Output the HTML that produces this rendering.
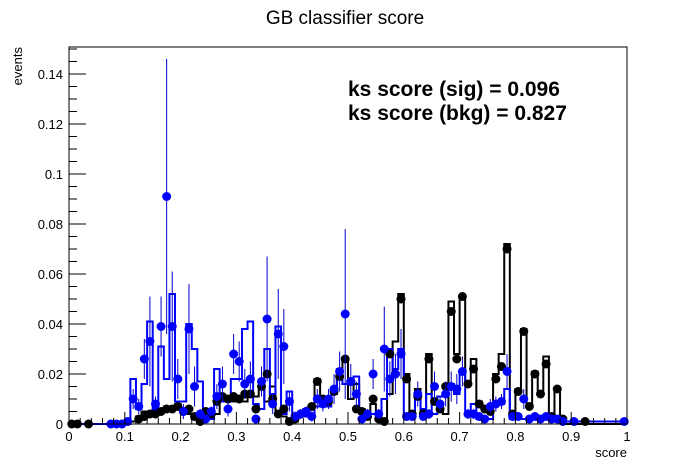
<!DOCTYPE html>
<html><head><meta charset="utf-8"><style>
html,body{margin:0;padding:0;background:#fff;}
svg{display:block;font-family:"Liberation Sans",sans-serif;}
</style></head><body>
<svg id="chart" width="696" height="472" viewBox="0 0 696 472" xmlns="http://www.w3.org/2000/svg">
<rect width="696" height="472" fill="#fff"/>
<text x="345" y="24" font-size="19" text-anchor="middle">GB classifier score</text>
<text transform="translate(22,47) rotate(-90)" font-size="13" text-anchor="end">events</text>
<text x="627" y="457" font-size="13" text-anchor="end">score</text>
<text x="348" y="96" font-size="21" font-weight="bold">ks score (sig) = 0.096</text>
<text x="348" y="120" font-size="21" font-weight="bold">ks score (bkg) = 0.827</text>
<g id="marks"></g>
<g id="axes"></g>
</svg>
<script>
const xTicks = [0,0.1,0.2,0.3,0.4,0.5,0.6,0.7,0.8,0.9,1];
const xTickLabels = ["0","0.1","0.2","0.3","0.4","0.5","0.6","0.7","0.8","0.9","1"];
const yTicks = [0,0.02,0.04,0.06,0.08,0.1,0.12,0.14];
const yTickLabels = ["0","0.02","0.04","0.06","0.08","0.1","0.12","0.14"];
const nBins = 100;
const bkgHist = [0,0,0,0,0,0,0,0,0,0,0.001,0.001,0.003,0.005,0.003,0.006,0.006,0.007,0.006,0.008,0.005,0.004,0.002,0.001,0.005,0.005,0.004,0.009,0.010,0.009,0.011,0.009,0.012,0.011,0.014,0.009,0.015,0.005,0.003,0.001,0.001,0.004,0.006,0.007,0.018,0.011,0.010,0.012,0.018,0.026,0.010,0.016,0.006,0.004,0.008,0.003,0.001,0.012,0.033,0.052,0.020,0.005,0.014,0.005,0.028,0.008,0.006,0.004,0.049,0.028,0.051,0.016,0.026,0.009,0.007,0.005,0.020,0.028,0.072,0.004,0.014,0.038,0.008,0.021,0.013,0.027,0.003,0.014,0.001,0,0,0,0,0,0,0,0,0,0,0];
const sigHist = [0,0,0,0,0,0,0,0,0,0,0,0.018,0.006,0.016,0.041,0.006,0.031,0.018,0.052,0.009,0.009,0.040,0.030,0.017,0.004,0.002,0.022,0.009,0.009,0.018,0.018,0.038,0.041,0.008,0.006,0.030,0.012,0.039,0.004,0.013,0.003,0.003,0.003,0.003,0.007,0.007,0.007,0.012,0.022,0.016,0.016,0.019,0.004,0.004,0.004,0.004,0.010,0.030,0.022,0.030,0.004,0.003,0.012,0.006,0.012,0.004,0.011,0.011,0.016,0.012,0.020,0.004,0.008,0.002,0.002,0.002,0.008,0.008,0.014,0.002,0.002,0.002,0.002,0.002,0.002,0.002,0.002,0.002,0.001,0.001,0.001,0.001,0.001,0.001,0.001,0.001,0.001,0.001,0.001,0.001];
const bkgPts = [0,0,null,0,null,null,null,null,null,null,null,null,0.002,0.003,0.004,0.004,0.005,0.006,0.006,0.007,0.005,0.006,0.003,0.001,0.005,0.004,0.009,0.011,0.010,0.011,0.010,0.012,0.012,0.006,0.015,0.020,0.010,0.004,0.006,0.001,0.002,0.004,0.005,0.007,0.017,0.010,0.009,0.013,0.019,0.026,0.017,0.006,0.005,0.003,0.010,0.002,0.001,0.028,0.020,0.050,0.018,0.004,0.011,0.004,0.026,0.009,0.006,0.015,0.045,0.026,0.051,0.016,0.022,0.008,0.006,0.005,0.018,0.023,0.070,0.004,0.013,0.037,0.007,0.020,0.012,0.024,0.003,0.014,0.002,null,null,null,0.001,null,null,null,null,null,null,null];
const sigPts = [null,null,null,null,null,null,null,0,0,0,0.001,0.010,0.007,0.026,0.033,0.008,0.039,0.091,0.039,0.018,0.005,0.038,0.015,0.004,0.002,0.005,0.011,0.016,0.006,0.028,0.025,0.016,0.018,0.002,0.017,0.042,0.008,0.036,0.031,0.009,0.003,0.004,0.005,0.003,0.010,0.008,0.010,0.014,0.021,0.044,0.017,0.012,0.002,0.004,0.020,0.004,0.030,0.018,0.020,0.028,0.003,0.003,0.012,0.003,0.004,0.015,0.008,0.012,0.015,0.014,0.021,0.004,0.004,0.003,0.002,0.007,0.008,0.009,0.021,0.003,0.003,0.010,0.002,0.003,0.002,0.003,0.002,0.002,0.001,null,0.001,null,null,null,null,null,null,null,null,0.001];
const sigErr = [0,0,0,0,0,0,0,0,0,0,0,0.004,0.003,0.008,0.018,0.003,0.012,0.055,0.022,0.008,0.003,0.018,0.008,0.002,0.001,0.002,0.005,0.007,0.003,0.008,0.008,0.006,0.007,0.001,0.006,0.025,0.004,0.018,0.015,0.004,0.002,0.002,0.002,0.002,0.004,0.003,0.004,0.006,0.008,0.034,0.007,0.005,0.001,0.002,0.006,0.002,0.017,0.007,0.008,0.010,0.001,0.001,0.005,0.001,0.002,0.006,0.003,0.005,0.006,0.006,0.006,0.002,0.002,0.001,0.001,0.003,0.003,0.003,0.007,0.001,0.001,0.004,0.001,0.001,0.001,0.001,0.001,0.001,0,0,0,0,0,0,0,0,0,0,0,0];

const L=69,R=627,T=47,B=424;
const xs=v=>L+v*(R-L);
const ys=v=>B-v*2500;
const NS="http://www.w3.org/2000/svg";
const marks=document.getElementById('marks'), axes=document.getElementById('axes');
function mk(tag,attrs,parent){const e=document.createElementNS(NS,tag);for(const k in attrs)e.setAttribute(k,attrs[k]);parent.appendChild(e);return e;}

function histPath(vals){
  let d=`M${xs(0)},${ys(vals[0])}`;
  for(let i=0;i<nBins;i++){
    d+=` L${xs(i/nBins)},${ys(vals[i])} L${xs((i+1)/nBins)},${ys(vals[i])}`;
  }
  return d;
}
const hb=mk('path',{d:histPath(bkgHist),fill:'none',stroke:'#000','stroke-width':2},marks);


const hs=mk('path',{d:histPath(sigHist),fill:'none',stroke:'#0000ff','stroke-width':2},marks);



for(let i=0;i<nBins;i++){
  const cx=xs((i+0.5)/nBins);
  if(bkgPts[i]!==null){
    const c=mk('circle',{cx:cx,cy:ys(bkgPts[i]),r:4.5,fill:'#000'},marks);
    
    
  }
}
for(let i=0;i<nBins;i++){
  const cx=xs((i+0.5)/nBins);
  if(sigPts[i]!==null){
    const e=sigErr[i];
    if(e>0){
      const ln=mk('line',{x1:cx,x2:cx,y1:ys(sigPts[i]+e),y2:ys(Math.max(0,sigPts[i]-e)),stroke:'#0000cc','stroke-width':1},marks);
      
      
    }
    const c=mk('circle',{cx:cx,cy:ys(sigPts[i]),r:4.5,fill:'#0000ff'},marks);
    
    
  }
}

const fr=mk('rect',{x:L,y:T,width:R-L,height:B-T,fill:'none',stroke:'#000','stroke-width':1},axes);


for(let k=0;k<=50;k++){
  const v=k*0.02;const x=xs(v);
  const len=(k%5===0)?12:6;
  mk('line',{x1:x,x2:x,y1:B,y2:B-len,stroke:'#000','stroke-width':1},axes);
}
xTicks.forEach((v,i)=>{
  const t=mk('text',{x:xs(v),y:B+17,'font-size':13,'text-anchor':'middle'},axes);
  t.textContent=xTickLabels[i];
  
  
});
for(let k=0;k*0.005<=0.151;k++){
  const y=ys(k*0.005);if(y<T)break;
  const len=(k%4===0)?17:8;
  mk('line',{x1:L,x2:L+len,y1:y,y2:y,stroke:'#000','stroke-width':1},axes);
}
yTicks.forEach((v,i)=>{
  const t=mk('text',{x:L-6,y:ys(v)+5,'font-size':13,'text-anchor':'end'},axes);
  t.textContent=yTickLabels[i];
  
  
});
</script>
</body></html>
